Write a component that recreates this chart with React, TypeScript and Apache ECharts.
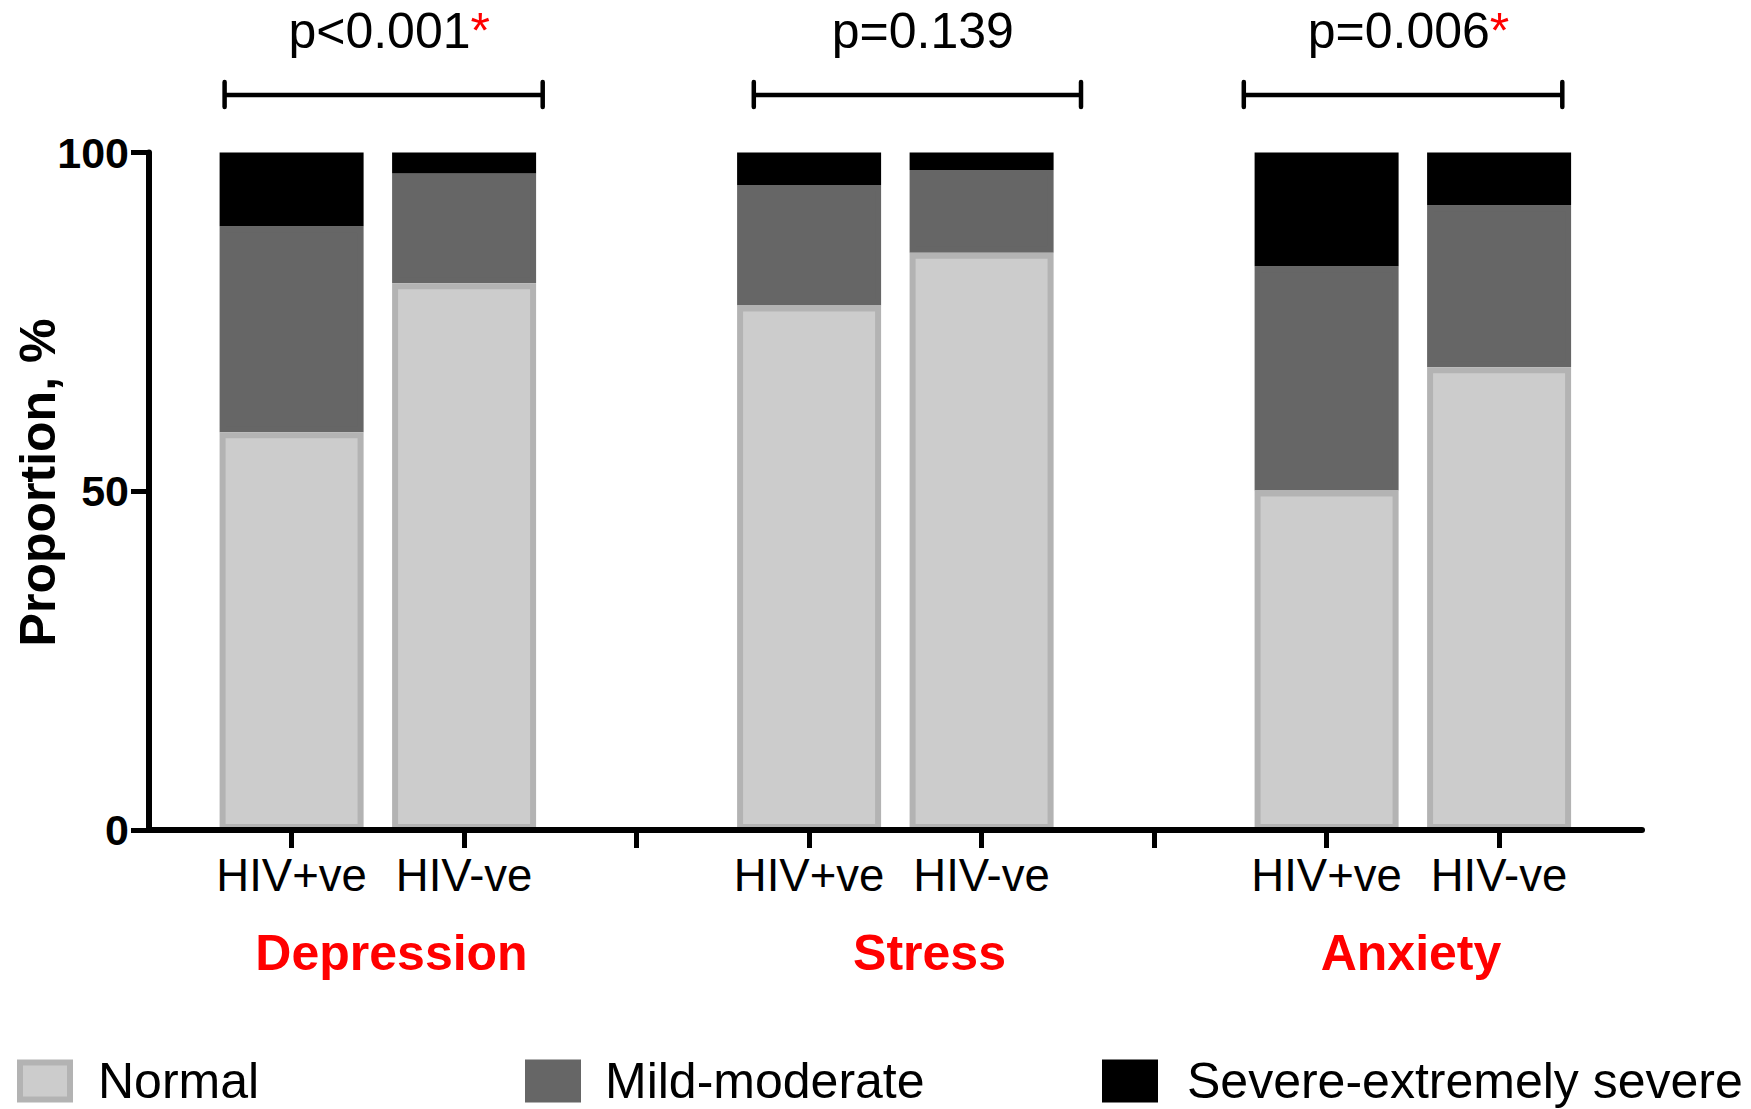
import React, { useEffect, useRef } from "react";
import * as echarts from "echarts";

// ---- data ----
const conditions = ["Depression", "Stress", "Anxiety"];
const groupLabels = ["HIV+ve", "HIV-ve"];
const barPositions = [1, 2, 4, 5, 7, 8];
const tickPositions = [1, 2, 3, 4, 5, 6, 7, 8];
const seriesNames = ["Normal", "Mild-moderate", "Severe-extremely severe"];
const normal = [58.7, 80.7, 77.4, 85.2, 50.1, 68.3];
const mildModerate = [30.4, 16.2, 17.8, 12.2, 33.1, 23.9];
const severe = [10.9, 3.1, 4.8, 2.6, 16.8, 7.8];
const pValues = ["p<0.001", "p=0.139", "p=0.006"];
const significant = [true, false, true];
const yTitle = "Proportion, %";

const FONT = "'Liberation Sans', Arial, Helvetica, sans-serif";

// slots 1..8 on the bar axis; separators stay empty
const slots = tickPositions.map((p) => String(p));
const toSlots = (vals: number[]) =>
  tickPositions.map((p) => {
    const i = barPositions.indexOf(p);
    return i >= 0 ? vals[i] : "-";
  });

export default function App() {
  const ref = useRef<HTMLDivElement>(null);

  useEffect(() => {
    if (!ref.current) return;
    const chart = echarts.init(ref.current, undefined, { renderer: "svg" });

    const bracketX = [
      [224.6, 542.7],
      [753.8, 1081],
      [1243.8, 1562.3],
    ];
    const pTextX = [288.4, 831.7, 1307.7];
    const titleX = [391.5, 929.5, 1411];

    const graphics: any[] = [];
    bracketX.forEach(([x1, x2], i) => {
      graphics.push({
        type: "line",
        shape: { x1, y1: 95, x2, y2: 95 },
        style: { stroke: "#000", lineWidth: 4.5 },
        silent: true,
      });
      [x1, x2].forEach((x) =>
        graphics.push({
          type: "line",
          shape: { x1: x, y1: 82, x2: x, y2: 107 },
          style: { stroke: "#000", lineWidth: 4.5, lineCap: "round" },
          silent: true,
        })
      );
      graphics.push({
        type: "text",
        x: pTextX[i],
        y: 30.7,
        silent: true,
        style: {
          text: pValues[i] + (significant[i] ? "{s|*}" : ""),
          fill: "#000",
          fontSize: 50,
          fontFamily: FONT,
          align: "left",
          verticalAlign: "middle",
          textAlign: "left",
          textVerticalAlign: "middle",
          rich: {
            s: { fill: "#ff0000", fontSize: 50, fontFamily: FONT },
          },
        },
      });
      graphics.push({
        type: "text",
        x: titleX[i],
        y: 953.4,
        silent: true,
        style: {
          text: conditions[i],
          fill: "#ff0000",
          fontSize: 50,
          fontWeight: "bold",
          fontFamily: FONT,
          align: "center",
          verticalAlign: "middle",
          textAlign: "center",
          textVerticalAlign: "middle",
        },
      });
    });
    graphics.push({
      type: "text",
      x: 38,
      y: 482.5,
      rotation: Math.PI / 2,
      silent: true,
      style: {
        text: yTitle,
        fill: "#000",
        fontSize: 50,
        fontWeight: "bold",
        fontFamily: FONT,
        align: "center",
        verticalAlign: "middle",
        textAlign: "center",
        textVerticalAlign: "middle",
      },
    });

    const legendBase = {
      orient: "horizontal",
      padding: 0,
      icon: "rect",
      selectedMode: false,
      top: 1056,
    };
    const legendText = (pad: number) => ({
      fontSize: 50,
      color: "#000",
      fontFamily: FONT,
      padding: [0, 0, 0, pad],
    });

    const gridTop = 152.5;
    const gridBottom = 279;

    const option: any = {
      animation: false,
      grid: [
        { left: 149, right: 109, top: gridTop, bottom: gridBottom, containLabel: false },
        { left: 205.35, right: 165.65, top: gridTop, bottom: gridBottom, containLabel: false },
      ],
      legend: [
        {
          ...legendBase,
          data: [seriesNames[0]],
          left: 17,
          itemWidth: 50,
          itemHeight: 37,
          itemStyle: { borderColor: "#b3b3b3", borderWidth: 6 },
          textStyle: legendText(23),
        },
        {
          ...legendBase,
          data: [seriesNames[1]],
          left: 525,
          itemWidth: 56,
          itemHeight: 43,
          itemStyle: { borderWidth: 0 },
          textStyle: legendText(19),
        },
        {
          ...legendBase,
          data: [seriesNames[2]],
          left: 1102,
          itemWidth: 56,
          itemHeight: 43,
          itemStyle: { borderWidth: 0 },
          textStyle: legendText(24),
        },
      ],
      xAxis: [
        {
          type: "value",
          gridIndex: 0,
          min: 0.1733,
          max: 8.829,
          z: 5,
          splitLine: { show: false },
          axisLine: { show: true, lineStyle: { color: "#000", width: 6 } },
          axisTick: {
            show: true,
            customValues: tickPositions,
            length: 18,
            lineStyle: { color: "#000", width: 5 },
          },
          axisLabel: {
            show: true,
            customValues: barPositions,
            formatter: (v: number) => {
              const idx = barPositions.indexOf(Math.round(v));
              return idx >= 0 ? groupLabels[idx % 2] : "";
            },
            margin: 22,
            fontSize: 45.5,
            color: "#000",
            fontFamily: FONT,
          },
        },
        {
          type: "category",
          gridIndex: 1,
          data: slots,
          boundaryGap: true,
          show: false,
        },
      ],
      yAxis: [
        {
          type: "value",
          gridIndex: 0,
          min: 0,
          max: 100,
          interval: 50,
          z: 5,
          splitLine: { show: false },
          axisLine: { show: true, lineStyle: { color: "#000", width: 6 } },
          axisTick: { show: true, length: 18, lineStyle: { color: "#000", width: 5 } },
          axisLabel: {
            fontSize: 43,
            fontWeight: "bold",
            color: "#000",
            fontFamily: FONT,
            margin: 20,
          },
        },
        {
          type: "value",
          gridIndex: 1,
          min: 0,
          max: 100,
          interval: 50,
          show: false,
          splitLine: { show: false },
        },
      ],
      graphic: graphics,
      series: [
        {
          name: seriesNames[0],
          type: "bar",
          stack: "total",
          xAxisIndex: 1,
          yAxisIndex: 1,
          barWidth: 144,
          z: 3,
          data: toSlots(normal),
          itemStyle: { color: "#cccccc", borderColor: "#b3b3b3", borderWidth: 6 },
          emphasis: { disabled: true },
        },
        {
          name: seriesNames[1],
          type: "bar",
          stack: "total",
          xAxisIndex: 1,
          yAxisIndex: 1,
          barWidth: 144,
          z: 2,
          data: toSlots(mildModerate),
          itemStyle: { color: "#666666", borderColor: "#666666", borderWidth: 6 },
          emphasis: { disabled: true },
        },
        {
          name: seriesNames[2],
          type: "bar",
          stack: "total",
          xAxisIndex: 1,
          yAxisIndex: 1,
          barWidth: 144,
          z: 2,
          data: toSlots(severe),
          itemStyle: { color: "#000000", borderColor: "#000000", borderWidth: 6 },
          emphasis: { disabled: true },
        },
      ],
    };

    chart.setOption(option);
    return () => chart.dispose();
  }, []);

  return (
    <div
      ref={ref}
      style={{ position: "fixed", left: 0, top: 0, width: 1751, height: 1109, background: "#fff" }}
    />
  );
}
